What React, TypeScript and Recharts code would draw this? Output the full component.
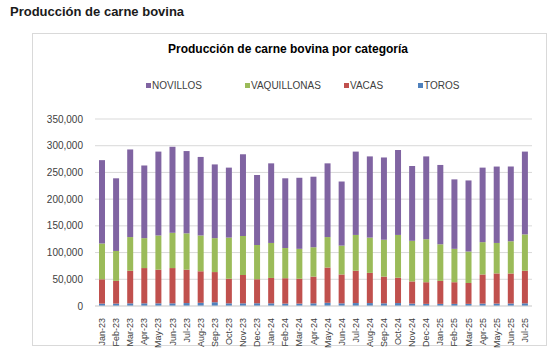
import React from "react";
import { BarChart, Bar, XAxis, YAxis, CartesianGrid, Legend } from "recharts";

const months = [
  "Jan-23","Feb-23","Mar-23","Apr-23","May-23","Jun-23","Jul-23","Aug-23","Sep-23","Oct-23","Nov-23","Dec-23",
  "Jan-24","Feb-24","Mar-24","Apr-24","May-24","Jun-24","Jul-24","Aug-24","Sep-24","Oct-24","Nov-24","Dec-24",
  "Jan-25","Feb-25","Mar-25","Apr-25","May-25","Jun-25","Jul-25",
];

const toros = [4500,4500,5000,5000,5000,5000,5500,6000,7000,5000,5000,5000,5000,4500,4500,5000,6000,5000,5500,5500,5000,5500,4500,4000,4000,4000,4000,4500,4500,4500,5000];
const vacas = [45500,42500,61000,66000,63000,66000,62500,59000,56500,46000,53000,45000,47500,47500,46500,50000,66000,54000,60500,56500,50000,47500,41500,40500,43000,40500,39000,54500,56500,56500,61000];
const vaquillonas = [67000,56000,63000,56000,64000,66000,68000,67000,63500,77000,73000,64000,65500,56500,56000,55000,57000,54000,67000,66000,69000,80000,76000,80500,68500,62500,59000,60500,57000,60000,68000];
const novillos = [156000,136000,164000,136000,157000,161000,154000,147000,138000,131000,153000,131000,149000,130500,133000,132000,138000,120000,156000,152000,154000,159000,140000,155000,148500,130000,133000,139500,143000,140000,155000];

const yTicks = [0, 50000, 100000, 150000, 200000, 250000, 300000, 350000];

const seriesInfo = [
  { key: "NOVILLOS", color: "#8064A2" },
  { key: "VAQUILLONAS", color: "#9BBB59" },
  { key: "VACAS", color: "#C0504D" },
  { key: "TOROS", color: "#4F81BD" },
];

const data = months.map((m, i) => ({
  month: m,
  TOROS: toros[i],
  VACAS: vacas[i],
  VAQUILLONAS: vaquillonas[i],
  NOVILLOS: novillos[i],
}));

const FONT = "'Liberation Sans', Arial, sans-serif";

const fmt = (v: number) => v.toLocaleString("en-US");

const XTick = (props: any) => {
  const { x, y, payload } = props;
  return (
    <text
      x={x}
      y={y + 4}
      transform={`rotate(-90, ${x}, ${y + 4})`}
      textAnchor="end"
      dominantBaseline="central"
      fontSize={9}
      fill="#404040"
      fontFamily={FONT}
    >
      {payload.value}
    </text>
  );
};

const legendX = [146, 245, 344, 418];

const LegendContent = () => (
  <div style={{ position: "relative", height: 14 }}>
    {seriesInfo.map((s, i) => (
      <div
        key={s.key}
        style={{
          position: "absolute",
          left: legendX[i],
          top: 0,
          display: "flex",
          alignItems: "center",
          fontFamily: FONT,
          fontSize: 10,
          color: "#404040",
          whiteSpace: "nowrap",
        }}
      >
        <span style={{ display: "inline-block", width: 5, height: 5, background: s.color, marginRight: 1 }} />
        {s.key}
      </div>
    ))}
  </div>
);

export default function App() {
  return (
    <div style={{ position: "absolute", left: 0, top: 0, width: 560, height: 354, background: "#fff", overflow: "hidden" }}>
      <div style={{ position: "absolute", left: 10, top: 4, fontFamily: FONT, fontWeight: "bold", fontSize: 13, color: "#1a1a1a" }}>
        Producción de carne bovina
      </div>
      <div style={{ position: "absolute", left: 32, top: 33, width: 515, height: 313, border: "1px solid #d9d9d9", boxSizing: "border-box" }} />
      <div style={{ position: "absolute", left: 0, top: 42, width: 576, textAlign: "center", fontFamily: FONT, fontWeight: "bold", fontSize: 12, color: "#000" }}>
        Producción de carne bovina por categoría
      </div>
      <div style={{ position: "absolute", left: 0, top: 0 }}>
        <BarChart width={560} height={354} data={data} margin={{ top: 105, right: 28, bottom: 10, left: 35 }} barSize={6}>
          <CartesianGrid vertical={false} stroke="#d9d9d9" />
          <XAxis
            dataKey="month"
            interval={0}
            tick={<XTick />}
            tickLine={false}
            axisLine={{ stroke: "#d9d9d9" }}
            height={38}
          />
          <YAxis
            domain={[0, 350000]}
            ticks={yTicks}
            tickFormatter={fmt}
            width={60}
            tickLine={false}
            axisLine={false}
            tick={{ fontSize: 10, fill: "#404040", fontFamily: FONT }}
            tickMargin={6}
          />
          <Legend
            verticalAlign="top"
            content={<LegendContent />}
            wrapperStyle={{ position: "absolute", left: 0, top: 80, width: 560 }}
          />
          <Bar dataKey="TOROS" stackId="a" fill="#4F81BD" isAnimationActive={false} />
          <Bar dataKey="VACAS" stackId="a" fill="#C0504D" isAnimationActive={false} />
          <Bar dataKey="VAQUILLONAS" stackId="a" fill="#9BBB59" isAnimationActive={false} />
          <Bar dataKey="NOVILLOS" stackId="a" fill="#8064A2" isAnimationActive={false} />
        </BarChart>
      </div>
    </div>
  );
}
